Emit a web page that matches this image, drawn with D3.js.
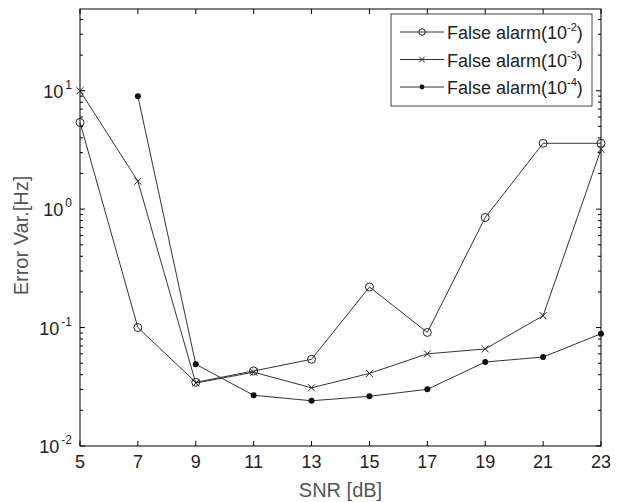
<!DOCTYPE html>
<html>
<head>
<meta charset="utf-8">
<script src="https://cdn.jsdelivr.net/npm/d3@7"></script>
<style>
  body { margin: 0; background: #fff; }
  svg { font-family: "Liberation Sans", Arial, sans-serif; }
</style>
</head>
<body>
<div id="chart"></div>
<script>
const snr = [5, 7, 9, 11, 13, 15, 17, 19, 21, 23];
const fa2 = [5.4, 0.1, 0.0345, 0.043, 0.054, 0.22, 0.091, 0.85, 3.6, 3.6];
const fa3 = [10, 1.72, 0.034, 0.042, 0.031, 0.041, 0.06, 0.066, 0.126, 3.2];
const fa4 = [null, 9.0, 0.049, 0.0268, 0.0241, 0.0263, 0.0301, 0.0512, 0.0564, 0.0887];
const seriesNames = ['2', '3', '4'];
const yTickExp = [-2, -1, 0, 1];

const W = 622, H = 502;
const m = { left: 80, right: 21, top: 9, bottom: 56 };

const svg = d3.select('#chart').append('svg')
    .attr('width', W)
    .attr('height', H);

const x = d3.scaleLinear()
    .domain([5, 23])
    .range([m.left, W - m.right]);
const y = d3.scaleLog()
    .domain([0.01, 49])
    .range([H - m.bottom, m.top]);

const x0 = m.left, x1 = W - m.right, y0 = H - m.bottom, y1 = m.top;
const ax = svg.append('g').attr('stroke', '#000').attr('stroke-width', 1);

// frame
ax.append('rect')
    .attr('x', x0).attr('y', y1)
    .attr('width', x1 - x0).attr('height', y0 - y1)
    .attr('fill', 'none');

// x ticks bottom + top
snr.forEach(v => {
    ax.append('line').attr('x1', x(v)).attr('x2', x(v)).attr('y1', y0).attr('y2', y0 - 5);
    ax.append('line').attr('x1', x(v)).attr('x2', x(v)).attr('y1', y1).attr('y2', y1 + 5);
    svg.append('text')
        .attr('x', x(v)).attr('y', y0 + 22)
        .attr('text-anchor', 'middle')
        .attr('fill', '#222')
        .style('font-size', '18px')
        .text(v);
});

// y ticks, major + minor, left and right
const ticks = [];
for (let e = -2; e <= 1; e++) {
    for (let k = 1; k <= 9; k++) {
        const v = k * Math.pow(10, e);
        if (v <= y.domain()[1]) ticks.push({ v, major: k === 1 });
    }
}
ticks.forEach(t => {
    const len = t.major ? 5 : 3;
    ax.append('line').attr('x1', x0).attr('x2', x0 + len).attr('y1', y(t.v)).attr('y2', y(t.v));
    ax.append('line').attr('x1', x1).attr('x2', x1 - len).attr('y1', y(t.v)).attr('y2', y(t.v));
});
yTickExp.forEach(e => {
    const t = svg.append('text')
        .attr('x', x0 - 8).attr('y', y(Math.pow(10, e)) + 7)
        .attr('text-anchor', 'end')
        .attr('fill', '#222')
        .style('font-size', '18px');
    t.append('tspan').text('10');
    t.append('tspan').attr('dx', 2).attr('dy', -9).style('font-size', '12px').text(e);
});

// axis labels
svg.append('text')
    .attr('x', (x0 + x1) / 2).attr('y', H - 5)
    .attr('text-anchor', 'middle')
    .attr('fill', '#555')
    .style('font-size', '20px')
    .text('SNR [dB]');
svg.append('text')
    .attr('transform', `translate(28,${(y0 + y1) / 2 + 8}) rotate(-90)`)
    .attr('text-anchor', 'middle')
    .attr('fill', '#555')
    .style('font-size', '20px')
    .text('Error Var.[Hz]');

// series
const series = [fa2, fa3, fa4];
const line = d3.line()
    .defined(d => d.v != null)
    .x(d => x(d.x))
    .y(d => y(d.v));

function marker(g, type, cx, cy, s = 1) {
    if (type === 0) {
        g.append('circle').attr('cx', cx).attr('cy', cy).attr('r', 4 * s)
            .attr('fill', 'none').attr('stroke', '#222').attr('stroke-width', 1);
    } else if (type === 1) {
        const r = 3.5 * s;
        g.append('path')
            .attr('d', `M${cx - r},${cy - r}L${cx + r},${cy + r}M${cx - r},${cy + r}L${cx + r},${cy - r}`)
            .attr('stroke', '#222').attr('stroke-width', 1);
    } else {
        g.append('circle').attr('cx', cx).attr('cy', cy).attr('r', 3 * s)
            .attr('fill', '#111');
    }
}

series.forEach((s, i) => {
    const pts = snr.map((xv, j) => ({ x: xv, v: s[j] }));
    svg.append('path')
        .datum(pts)
        .attr('d', line)
        .attr('fill', 'none')
        .attr('stroke', '#333')
        .attr('stroke-width', 1);
    const g = svg.append('g');
    pts.filter(d => d.v != null).forEach(d => marker(g, i, x(d.x), y(d.v)));
});

// legend
const lg = svg.append('g');
lg.append('rect')
    .attr('x', 391).attr('y', 14)
    .attr('width', 201).attr('height', 92)
    .attr('fill', '#fff')
    .attr('stroke', '#444');
seriesNames.forEach((n, i) => {
    const cy = 32 + i * 27.5;
    lg.append('line').attr('x1', 400).attr('x2', 444).attr('y1', cy).attr('y2', cy)
        .attr('stroke', '#333');
    marker(lg, i, 422, cy, 0.8);
    const t = lg.append('text')
        .attr('x', 447).attr('y', cy + 7)
        .attr('fill', '#222')
        .style('font-size', '18px');
    t.append('tspan').text('False alarm(10');
    t.append('tspan').attr('dy', -8).style('font-size', '11px').text('-' + n);
    t.append('tspan').attr('dy', 8).text(')');
});
</script>
</body>
</html>
